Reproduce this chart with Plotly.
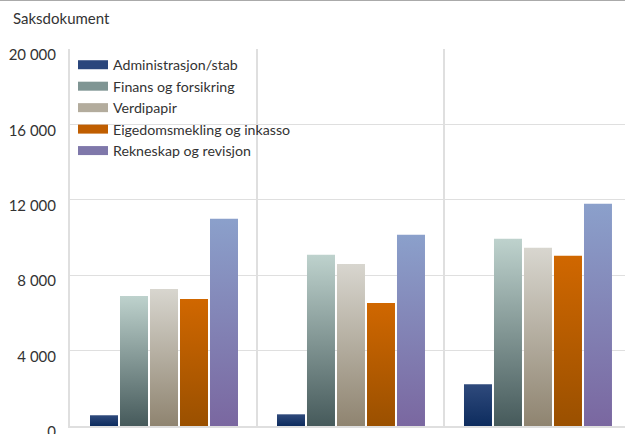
import plotly.graph_objects as go

# Data
groups = [0, 1, 2]
series = [
    "Administrasjon/stab",
    "Finans og forsikring",
    "Verdipapir",
    "Eigedomsmekling og inkasso",
    "Rekneskap og revisjon",
]
values = {
    "Administrasjon/stab": [570, 620, 2220],
    "Finans og forsikring": [6900, 9080, 9930],
    "Verdipapir": [7270, 8600, 9450],
    "Eigedomsmekling og inkasso": [6740, 6530, 9030],
    "Rekneskap og revisjon": [11000, 10140, 11790],
}
y_ticks = [0, 4000, 8000, 12000, 16000, 20000]
y_tick_labels = ["0", "4 000", "8 000", "12 000", "16 000", "20 000"]

# Style: vertical gradient (bottom colour, top colour) per series
gradients = {
    "Administrasjon/stab": ("#0d2c5e", "#2f4a7c"),
    "Finans og forsikring": ("#465a5b", "#bed2cd"),
    "Verdipapir": ("#8f8470", "#d8d6cf"),
    "Eigedomsmekling og inkasso": ("#9a5000", "#d06700"),
    "Rekneskap og revisjon": ("#7a67a0", "#8ba0cb"),
}
legend_colors = {
    "Administrasjon/stab": "#2a467c",
    "Finans og forsikring": "#7f9593",
    "Verdipapir": "#b3ac9d",
    "Eigedomsmekling og inkasso": "#c05e00",
    "Rekneskap og revisjon": "#7f78aa",
}

GROUP_PX = 187.0
BAR_W = 28 / GROUP_PX
BAR_PITCH = 30 / GROUP_PX
FIRST_LEFT = -0.5 + 20 / GROUP_PX
GRID = "#dfdfdf"

fig = go.Figure()

for j, name in enumerate(series):
    lo, hi = gradients[name]
    for g, v in zip(groups, values[name]):
        x0 = g + FIRST_LEFT + j * BAR_PITCH
        x1 = x0 + BAR_W
        fig.add_trace(go.Scatter(
            x=[x0, x0, x1, x1, x0],
            y=[0, v, v, 0, 0],
            mode="lines",
            line=dict(width=0),
            fill="toself",
            fillgradient=dict(type="vertical", colorscale=[[0, lo], [1, hi]],
                              start=0, stop=v),
            hoverinfo="skip",
            showlegend=False,
        ))
    # legend swatch
    fig.add_trace(go.Scatter(
        x=[None], y=[None], mode="lines", name=name,
        line=dict(color=legend_colors[name], width=9),
        showlegend=True,
    ))

# thin rule across the very top of the figure
fig.add_shape(type="line", xref="paper", yref="paper",
              x0=-70 / 555, x1=1.05, y0=1 + 48.5 / 377, y1=1 + 48.5 / 377,
              line=dict(color="#aaaaaa", width=1))

fig.update_layout(
    width=625, height=434,
    margin=dict(l=70, r=0, t=49, b=8, autoexpand=False),
    paper_bgcolor="white", plot_bgcolor="white",
    font=dict(family="Lato, 'Open Sans', sans-serif", size=15, color="#333333"),
    title=dict(text="Saksdokument", x=13 / 625, xanchor="left",
               y=1 - 18.5 / 434, yanchor="middle",
               font=dict(size=15, color="#333333")),
    showlegend=True,
    legend=dict(x=3 / 555, y=1.0, xanchor="left", yanchor="top",
                bgcolor="rgba(0,0,0,0)", borderwidth=0,
                font=dict(size=14.2, color="#333333"), tracegroupgap=0),
    xaxis=dict(range=[-0.5, 2.468], tickvals=[-0.5, 0.5, 1.5, 2.5],
               showticklabels=False, showgrid=True, gridcolor=GRID,
               gridwidth=1.5, zeroline=False, showline=True, linecolor=GRID,
               linewidth=2, automargin=False, fixedrange=True),
    yaxis=dict(range=[0, 20000], tickvals=y_ticks, ticktext=y_tick_labels,
               showgrid=True, gridcolor=GRID, gridwidth=1,
               zeroline=False, showline=True, linecolor=GRID, linewidth=2,
               ticks="", ticklabelstandoff=9, ticklabelshift=6,
               ticklabeloverflow="allow", automargin=False, fixedrange=True),
)

fig.write_html("out.html")
